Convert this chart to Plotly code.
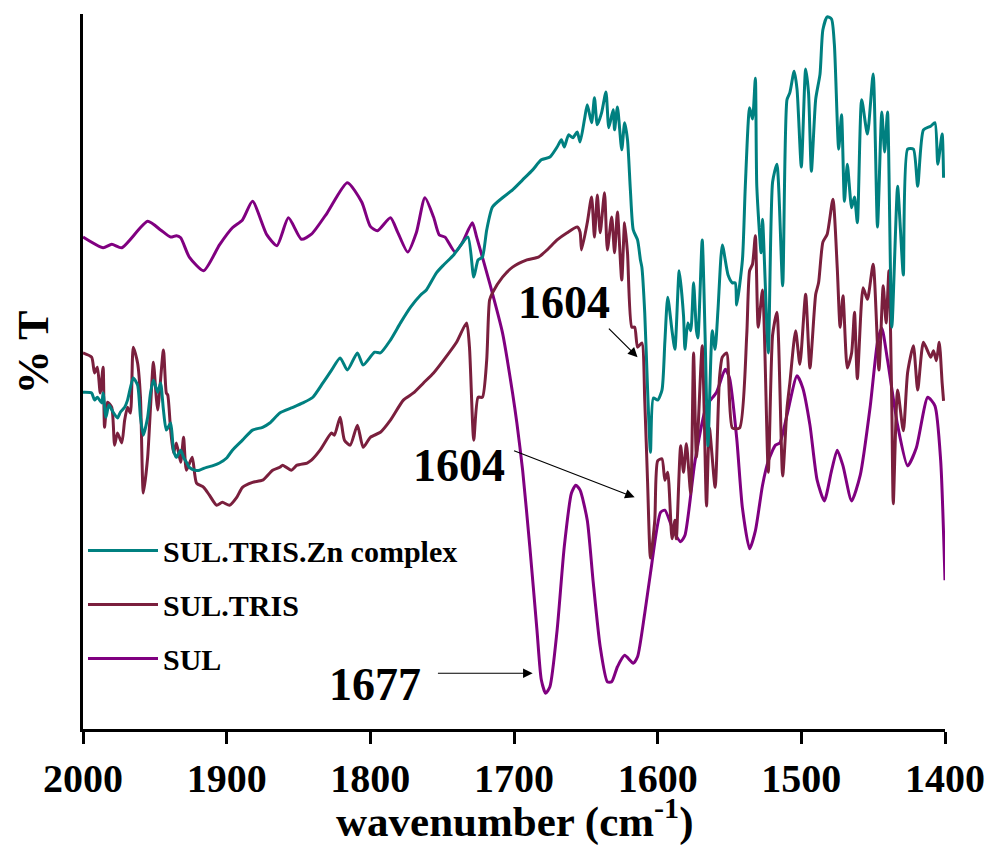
import plotly.graph_objects as go

# ---------------- data ----------------
# SUL
sul_wn = [2000, 1986, 1980, 1973, 1955, 1946, 1939, 1935, 1932, 1926, 1916, 1905, 1896, 1889, 1882,
          1872, 1865, 1857, 1848, 1841, 1830, 1816, 1806, 1800, 1795, 1786, 1781, 1774, 1768, 1762,
          1756, 1752, 1748, 1741, 1736, 1729, 1726, 1717, 1708, 1701, 1698, 1694, 1689, 1684, 1681,
          1678, 1675, 1670, 1665, 1660, 1657, 1654, 1649, 1645, 1640, 1635, 1632, 1628, 1623, 1617,
          1614, 1609, 1605, 1598, 1595, 1589, 1584, 1581, 1574, 1566, 1559, 1553, 1550, 1545, 1541,
          1536, 1532, 1527, 1523, 1518, 1515, 1510, 1503, 1499, 1494, 1489, 1484, 1479, 1475, 1471,
          1465, 1459, 1452, 1447, 1444, 1440, 1433, 1426, 1420, 1412, 1407, 1403, 1400]
sul_t = [68.8, 67.3, 67.8, 67.3, 71.0, 69.8, 68.8, 69.0, 68.7, 66.0, 64.1, 67.7, 70.1, 71.2, 73.8,
         69.1, 67.6, 71.5, 68.5, 69.2, 72.2, 76.4, 73.7, 70.3, 69.7, 71.5, 69.5, 66.7, 69.4, 74.3,
         71.6, 69.1, 68.8, 66.7, 68.0, 70.8, 68.8, 62.4, 55.4, 47.0, 42.8, 36.2, 25.5, 13.8, 6.9,
         5.0, 5.9, 13.8, 25.5, 33.0, 34.1, 33.4, 29.2, 20.8, 11.5, 6.6, 6.6, 8.7, 10.3, 9.2,
         10.1, 16.2, 21.8, 30.3, 30.6, 27.7, 26.2, 27.1, 37.5, 45.2, 47.1, 50.3, 49.1, 40.7, 30.9,
         25.2, 27.7, 34.1, 37.5, 39.7, 40.0, 43.9, 49.4, 47.7, 42.5, 34.8, 31.9, 36.1, 39.0, 36.8,
         31.9, 35.5, 45.2, 54.1, 56.1, 51.6, 42.5, 36.8, 39.3, 46.4, 45.2, 37.5, 20.8]

# SUL.TRIS
tris_wn = [2000, 1994, 1992, 1990, 1988, 1986, 1985, 1983, 1980, 1978, 1976, 1973, 1971, 1969, 1967,
           1965, 1962, 1960, 1958, 1955, 1953, 1951, 1949, 1948, 1944, 1942, 1941, 1939, 1937, 1935,
           1932, 1930, 1928, 1924, 1921, 1916, 1912, 1907, 1903, 1898, 1893, 1889, 1882, 1875, 1868,
           1863, 1861, 1855, 1851, 1844, 1841, 1835, 1827, 1825, 1821, 1818, 1814, 1809, 1805, 1800,
           1793, 1786, 1777, 1770, 1763, 1756, 1749, 1740, 1733, 1731, 1728, 1725, 1722, 1719, 1717,
           1715, 1708, 1701, 1691, 1683, 1677, 1670, 1663, 1656, 1654, 1653, 1649, 1646, 1644, 1642,
           1640, 1637, 1635, 1632, 1630, 1628, 1625, 1623, 1621, 1618, 1616, 1614, 1611, 1609, 1607,
           1605, 1602, 1600, 1597, 1595, 1593, 1590, 1588, 1587, 1584, 1582, 1580, 1577, 1575, 1573,
           1569, 1566, 1564, 1560, 1557, 1555, 1552, 1548, 1543, 1538, 1536, 1534, 1532, 1530, 1527,
           1523, 1520, 1517, 1513, 1510, 1508, 1504, 1501, 1497, 1494, 1490, 1488, 1485, 1482, 1478,
           1475, 1473, 1471, 1468, 1465, 1463, 1461, 1457, 1454, 1450, 1446, 1443, 1441, 1439, 1437,
           1436, 1433, 1429, 1426, 1422, 1419, 1415, 1410, 1408, 1406, 1404, 1402, 1401]
tris_t = [52.6, 52.0, 49.8, 50.6, 47.0, 50.6, 42.2, 45.7, 45.0, 39.7, 41.4, 40.0, 43.2, 45.0, 44.2,
          53.4, 51.2, 46.4, 33.0, 38.0, 45.0, 51.3, 46.4, 44.6, 53.0, 47.0, 46.7, 41.8, 38.6, 40.0,
          37.3, 40.8, 36.2, 38.0, 34.4, 33.8, 32.7, 31.3, 31.7, 31.3, 32.4, 33.8, 34.5, 34.8, 36.2,
          36.6, 36.9, 36.2, 36.9, 37.2, 37.6, 39.0, 41.4, 41.1, 43.6, 40.4, 39.7, 42.5, 39.4, 40.8,
          41.5, 43.2, 46.0, 47.0, 48.4, 49.8, 51.6, 54.1, 56.8, 53.4, 40.4, 46.4, 46.4, 51.6, 60.0,
          61.0, 63.2, 64.6, 65.6, 66.0, 67.0, 68.4, 69.4, 70.2, 69.5, 67.0, 70.8, 74.4, 68.8, 74.7,
          69.4, 75.0, 67.0, 71.6, 66.6, 72.3, 62.8, 70.8, 66.6, 56.2, 56.2, 53.4, 54.0, 46.0, 34.4,
          23.9, 29.2, 37.5, 37.8, 34.8, 35.9, 26.6, 29.2, 26.6, 39.6, 35.9, 39.9, 32.9, 52.6, 38.0,
          53.6, 31.2, 42.1, 33.8, 49.0, 52.0, 52.6, 42.1, 42.1, 55.1, 64.1, 65.0, 69.0, 56.2, 61.4,
          35.9, 55.1, 58.3, 35.4, 44.8, 48.4, 55.7, 51.0, 60.8, 50.5, 60.8, 62.4, 68.1, 69.2, 74.1,
          64.5, 56.2, 60.6, 50.5, 52.6, 58.3, 49.0, 61.7, 60.1, 65.0, 50.2, 62.0, 56.8, 64.1, 44.8,
          31.5, 47.4, 41.7, 49.9, 53.6, 47.4, 54.1, 52.0, 52.9, 51.5, 54.1, 48.4, 45.9]

# SUL.TRIS.Zn complex
zn_wn = [2000, 1994, 1992, 1990, 1987, 1986, 1984, 1982, 1979, 1976, 1974, 1971, 1969, 1965, 1962,
         1960, 1958, 1955, 1953, 1951, 1948, 1946, 1944, 1942, 1939, 1937, 1935, 1932, 1930, 1928,
         1926, 1922, 1919, 1914, 1910, 1905, 1900, 1896, 1889, 1882, 1875, 1870, 1863, 1855, 1847,
         1840, 1833, 1827, 1821, 1816, 1809, 1805, 1797, 1793, 1786, 1779, 1772, 1765, 1761, 1754,
         1749, 1742, 1738, 1732, 1728, 1725, 1722, 1719, 1715, 1708, 1701, 1694, 1687, 1681, 1675,
         1670, 1667, 1665, 1662, 1659, 1656, 1654, 1651, 1649, 1646, 1644, 1642, 1639, 1636, 1634,
         1631, 1630, 1628, 1625, 1623, 1621, 1619, 1617, 1614, 1612, 1611, 1609, 1607, 1605, 1603,
         1600, 1597, 1595, 1593, 1590, 1588, 1585, 1582, 1581, 1579, 1577, 1575, 1573, 1572, 1569,
         1567, 1565, 1562, 1560, 1558, 1555, 1551, 1548, 1546, 1545, 1541, 1539, 1536, 1534, 1532,
         1531, 1528, 1527, 1523, 1520, 1517, 1513, 1510, 1508, 1505, 1503, 1500, 1497, 1495, 1493,
         1490, 1487, 1485, 1482, 1479, 1477, 1474, 1472, 1470, 1468, 1465, 1463, 1461, 1458, 1454,
         1450, 1447, 1444, 1442, 1440, 1437, 1433, 1431, 1429, 1426, 1422, 1419, 1415, 1410, 1407,
         1405, 1402, 1401]
zn_t = [47.1, 47.0, 46.0, 46.4, 45.6, 47.0, 43.6, 45.3, 44.3, 43.5, 44.3, 45.0, 46.0, 49.1, 48.1,
        43.6, 41.1, 43.6, 47.0, 48.8, 47.1, 48.4, 44.6, 41.8, 42.8, 39.0, 38.0, 39.0, 38.0, 37.3,
        36.6, 36.2, 36.2, 36.6, 36.8, 37.2, 37.9, 39.0, 40.4, 41.8, 42.2, 42.8, 44.2, 44.9, 45.6,
        46.4, 48.4, 50.2, 51.9, 50.2, 52.6, 50.9, 52.7, 52.6, 54.4, 56.8, 59.0, 60.7, 61.4, 63.8,
        64.9, 66.3, 67.4, 68.8, 63.2, 65.6, 66.0, 69.8, 73.0, 74.3, 75.4, 76.8, 78.2, 79.6, 80.0,
        81.4, 82.4, 81.4, 83.1, 82.7, 83.5, 82.1, 85.2, 87.3, 84.8, 88.3, 84.5, 86.2, 89.1, 84.1,
        86.6, 83.8, 87.0, 81.0, 84.8, 82.4, 75.4, 69.8, 68.4, 65.6, 64.6, 58.2, 47.4, 38.7, 46.3,
        46.0, 47.4, 54.1, 60.4, 55.7, 53.1, 64.1, 57.8, 53.1, 56.8, 55.7, 62.4, 55.7, 54.7, 68.4,
        55.1, 39.6, 55.7, 53.1, 58.7, 67.7, 63.5, 62.4, 62.4, 59.3, 65.6, 75.9, 86.9, 85.3, 91.0,
        75.9, 66.6, 71.3, 52.6, 76.5, 79.0, 62.0, 88.0, 89.0, 92.0, 89.5, 78.6, 92.3, 89.0, 78.0,
        88.1, 91.6, 97.8, 99.6, 99.3, 95.7, 81.1, 85.9, 73.8, 79.0, 72.9, 74.4, 70.8, 88.0, 83.2,
        91.6, 70.2, 86.3, 80.7, 86.3, 56.2, 75.9, 69.8, 63.5, 81.1, 81.1, 75.9, 83.8, 84.3, 84.8,
        79.0, 83.2, 77.1]

x_ticks = [2000, 1900, 1800, 1700, 1600, 1500, 1400]
names = ["SUL", "SUL.TRIS", "SUL.TRIS.Zn complex"]
colors = ["#800080", "#7a1f3d", "#008080"]
legend_ranks = [3, 2, 1]

FONT = "Liberation Serif"

fig = go.Figure()
for wn, t, name, col, rank in [(sul_wn, sul_t, names[0], colors[0], legend_ranks[0]),
                               (tris_wn, tris_t, names[1], colors[1], legend_ranks[1]),
                               (zn_wn, zn_t, names[2], colors[2], legend_ranks[2])]:
    fig.add_trace(go.Scatter(x=wn, y=t, mode="lines", name=name, legendgroup=name,
                             legendrank=rank,
                             line=dict(color=col, width=3, shape="spline", smoothing=0.6)))

ann_font = dict(family=FONT, size=46, color="black", weight="bold")
# peak labels with arrows (text position, arrow tail, arrow tip)
labels = [("1604", 1665, 59.6, 1635, 56.2, 1614, 52.0),
          ("1604", 1738, 36.9, 1701, 39.0, 1616, 32.4),
          ("1677", 1797, 6.2, 1754, 7.8, 1687, 7.8)]
for txt, tx, ty, ax0, ay0, ax1, ay1 in labels:
    fig.add_annotation(x=tx, y=ty, text=txt, showarrow=False, font=ann_font,
                       xref="x", yref="y")
    fig.add_annotation(x=ax1, y=ay1, ax=ax0, ay=ay0, axref="x", ayref="y", xref="x", yref="y",
                       text="", showarrow=True, arrowhead=2, arrowsize=1.6, arrowwidth=1.2,
                       arrowcolor="black")

# axis titles
fig.add_annotation(text="% T", xref="paper", yref="paper", x=-0.058, y=0.527,
                   xanchor="center", yanchor="middle",
                   textangle=-90, showarrow=False,
                   font=dict(family=FONT, size=44, color="black", weight="bold"))
fig.add_annotation(text="wavenumber (cm<sup>-1</sup>)", xref="paper", yref="paper",
                   x=0.5, y=-0.125, xanchor="center", yanchor="middle", showarrow=False,
                   font=dict(family=FONT, size=43, color="black", weight="bold"))

fig.update_layout(
    width=996, height=845,
    margin=dict(l=83, r=51, t=14, b=116, autoexpand=False),
    plot_bgcolor="white", paper_bgcolor="white",
    showlegend=True,
    legend=dict(x=0.0, y=0.286, xanchor="left", yanchor="top",
                traceorder="grouped", tracegroupgap=12, itemwidth=70,
                bgcolor="rgba(0,0,0,0)",
                font=dict(family=FONT, size=30, color="black", weight="bold")),
    xaxis=dict(range=[2000, 1400], tickvals=x_ticks, ticktext=[str(v) for v in x_ticks],
               automargin=False,
               showline=True, linecolor="black", linewidth=3, ticks="outside", ticklen=12,
               tickwidth=3, tickcolor="black", showgrid=False, zeroline=False,
               tickfont=dict(family=FONT, size=40, color="black", weight="bold")),
    yaxis=dict(range=[0, 100], showline=True, linecolor="black", linewidth=3, ticks="",
               automargin=False,
               showticklabels=False, showgrid=False, zeroline=False),
)

fig.write_html("out.html")
